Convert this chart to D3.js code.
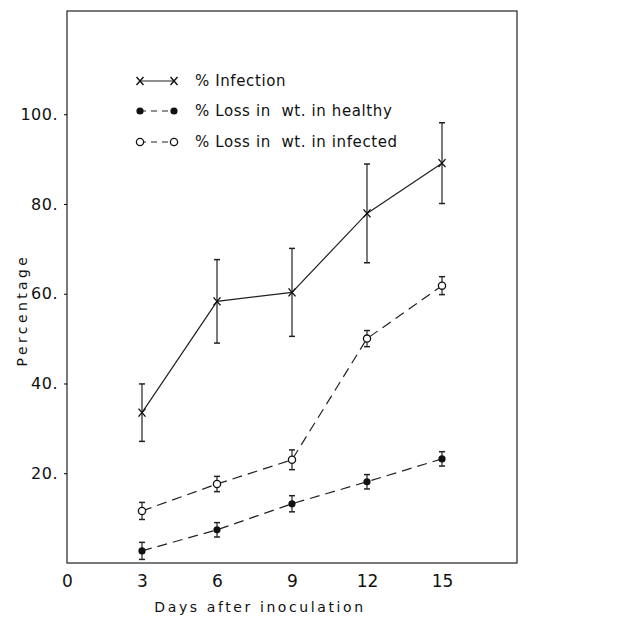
<!DOCTYPE html>
<html>
<head>
<meta charset="utf-8">
<script src="https://cdn.jsdelivr.net/npm/d3@7"></script>
<style>
  body { margin: 0; background: #fff; }
  text { font-family: "DejaVu Sans", sans-serif; fill: #111; }
</style>
</head>
<body>
<svg id="chart"></svg>
<script>
// days after inoculation
const days = [3, 6, 9, 12, 15];
const xTicks = [0, 3, 6, 9, 12, 15];
const yTicks = [20, 40, 60, 80, 100];

// % infection (x marker, solid)
const infection = [33.5, 58.3, 60.3, 77.9, 89.1];
const infectionErr = [6.4, 9.3, 9.8, 11.0, 9.0];

// % loss in wt. in healthy (filled dot, dashed)
const healthy = [2.7, 7.4, 13.2, 18.1, 23.2];
const healthyErr = [1.9, 1.6, 1.8, 1.6, 1.6];

// % loss in wt. in infected (open circle, dashed)
const infected = [11.6, 17.6, 23.0, 50.0, 61.8];
const infectedErr = [1.9, 1.7, 2.2, 1.8, 2.0];

const legendLabels = ["% Infection", "% Loss in  wt. in healthy", "% Loss in  wt. in infected"];

const width = 631, height = 620;
const margin = { top: 11, right: 114, bottom: 57, left: 67 };
const innerW = width - margin.left - margin.right;
const innerH = height - margin.top - margin.bottom;

const svg = d3.select("#chart").attr("width", width).attr("height", height);
const chart = svg.append("g").attr("transform", `translate(${margin.left},${margin.top})`);

const x = d3.scaleLinear().domain([0, 18]).range([0, innerW]);
const y = d3.scaleLinear().domain([0, 123]).range([innerH, 0]);

// frame
chart.append("rect")
  .attr("width", innerW).attr("height", innerH)
  .attr("fill", "none").attr("stroke", "#222").attr("stroke-width", 1.2);

// y axis
const yAxis = chart.append("g")
  .call(d3.axisLeft(y).tickValues(yTicks).tickSize(3).tickPadding(6).tickFormat(d => d + "."));
yAxis.select(".domain").remove();
yAxis.selectAll("text").style("font-size", "16px").style("letter-spacing", "0.5px");

// x axis
const xAxis = chart.append("g")
  .attr("transform", `translate(0,${innerH})`)
  .call(d3.axisBottom(x).tickValues(xTicks).tickSize(0).tickPadding(12));
xAxis.select(".domain").remove();
xAxis.selectAll("text").style("font-size", "17px");

// axis titles
svg.append("text")
  .attr("x", margin.left + x(9) - 32).attr("y", 612)
  .attr("text-anchor", "middle")
  .style("font-size", "14px").style("letter-spacing", "2.6px")
  .text("Days after inoculation");

svg.append("text")
  .attr("transform", `translate(27,${310}) rotate(-90)`)
  .attr("text-anchor", "middle")
  .style("font-size", "14px").style("letter-spacing", "3.4px")
  .text("Percentage");

const series = [
  { vals: infection, err: infectionErr, dash: null, marker: "x" },
  { vals: healthy, err: healthyErr, dash: "10,6", marker: "dot" },
  { vals: infected, err: infectedErr, dash: "10,6", marker: "circle" }
];

const line = d3.line().x((d, i) => x(days[i])).y(d => y(d));

function drawMarker(g, type, cx, cy) {
  if (type === "x") {
    g.append("path")
      .attr("d", `M${cx - 3.5},${cy - 4}L${cx + 3.5},${cy + 4}M${cx + 3.5},${cy - 4}L${cx - 3.5},${cy + 4}`)
      .attr("stroke", "#111").attr("stroke-width", 1.4);
  } else if (type === "dot") {
    g.append("circle").attr("cx", cx).attr("cy", cy).attr("r", 3.6).attr("fill", "#111");
  } else {
    g.append("circle").attr("cx", cx).attr("cy", cy).attr("r", 3.6)
      .attr("fill", "#fff").attr("stroke", "#111").attr("stroke-width", 1.3);
  }
}

series.forEach(s => {
  chart.append("path")
    .datum(s.vals)
    .attr("d", line)
    .attr("fill", "none")
    .attr("stroke", "#222")
    .attr("stroke-width", 1.2)
    .attr("stroke-dasharray", s.dash);

  const g = chart.append("g");
  s.vals.forEach((v, i) => {
    const cx = x(days[i]);
    const top = y(v + s.err[i]), bot = y(v - s.err[i]);
    g.append("line").attr("x1", cx).attr("x2", cx).attr("y1", top).attr("y2", bot)
      .attr("stroke", "#222").attr("stroke-width", 1.2);
    [top, bot].forEach(yy => {
      g.append("line").attr("x1", cx - 3).attr("x2", cx + 3).attr("y1", yy).attr("y2", yy)
        .attr("stroke", "#222").attr("stroke-width", 1.5);
    });
    drawMarker(g, s.marker, cx, y(v));
  });
});

// legend
const legend = svg.append("g");
const legendY = [81, 111, 142];
series.forEach((s, i) => {
  const ly = legendY[i];
  legend.append("line")
    .attr("x1", 140).attr("x2", 174).attr("y1", ly).attr("y2", ly)
    .attr("stroke", "#222").attr("stroke-width", 1.2)
    .attr("stroke-dasharray", s.dash ? "6,5" : null);
  drawMarker(legend, s.marker, 140, ly);
  drawMarker(legend, s.marker, 174, ly);
  legend.append("text")
    .attr("x", 195).attr("y", ly + 5)
    .style("font-size", "15px").style("letter-spacing", "0.6px")
    .style("white-space", "pre")
    .text(legendLabels[i]);
});
</script>
</body>
</html>
